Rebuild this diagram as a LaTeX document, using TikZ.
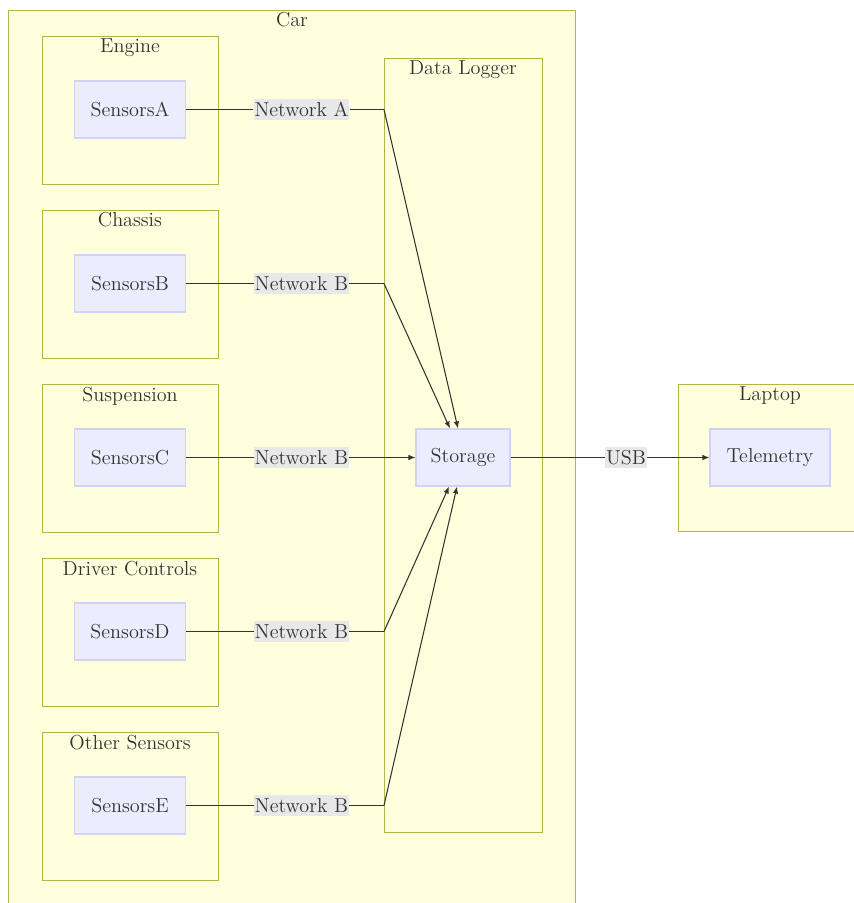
\documentclass[tikz,border=0pt]{standalone}
\usepackage{xcolor}
\usepackage{tikz}
\usetikzlibrary{arrows.meta, positioning}
\definecolor{grpfill}{HTML}{FFFFDE}
\definecolor{grpline}{HTML}{B5B545}
\definecolor{nodefill}{HTML}{ECECFF}
\definecolor{nodeline}{HTML}{D2D2F7}
\definecolor{ink}{HTML}{333333}
\definecolor{lblfill}{HTML}{E8E8E8}

\begin{document}
\begin{tikzpicture}[
  x=0.02cm, y=-0.02cm,
  font=\fontsize{11.5}{13}\selectfont,
  grp/.style={draw=grpline,fill=grpfill,line width=0.6pt,
              anchor=north west,inner sep=0pt},
  ttl/.style={text=ink,inner sep=1pt,anchor=north},
  snode/.style={draw=nodeline,fill=nodefill,line width=0.6pt,
                text=ink,minimum width=2.22cm,minimum height=1.14cm},
  lbl/.style={fill=lblfill,text=ink,inner xsep=0.5pt,inner ysep=2pt},
  arr/.style={-{Latex[length=1.4mm,width=1.1mm]},draw=ink,line width=0.6pt},
  ln/.style={draw=ink,line width=0.6pt}
]
  \useasboundingbox (0,0) rectangle (854,903);
  % outer groups
  \node[grp,minimum width=11.34cm,minimum height=17.9cm] (car) at (8,10) {};
  \node[ttl] (carT) at (292,10) {Car};
  \node[grp,minimum width=3.56cm,minimum height=2.94cm] (laptop) at (678,384) {};
  \node[ttl] (laptopT) at (770,385) {Laptop};
  % sensor groups
  \node[grp,minimum width=3.52cm,minimum height=2.96cm] (engine) at (42,36) {};
  \node[ttl] (engineT) at (130,37) {Engine};
  \node[grp,minimum width=3.52cm,minimum height=2.96cm] (chassis) at (42,210) {};
  \node[ttl] (chassisT) at (130,210) {Chassis};
  \node[grp,minimum width=3.52cm,minimum height=2.96cm] (susp) at (42,384) {};
  \node[ttl] (suspT) at (130,385) {Suspension};
  \node[grp,minimum width=3.52cm,minimum height=2.96cm] (driver) at (42,558) {};
  \node[ttl] (driverT) at (130,559) {Driver Controls};
  \node[grp,minimum width=3.52cm,minimum height=2.96cm] (other) at (42,732) {};
  \node[ttl] (otherT) at (130,733) {Other Sensors};
  \node[grp,minimum width=3.16cm,minimum height=15.48cm] (logger) at (384,58) {};
  \node[ttl] (loggerT) at (463,59) {Data Logger};
  % nodes
  \node[snode] (sA) at (130,109.5) {SensorsA};
  \node[snode] (sB) at (130,283.5) {SensorsB};
  \node[snode] (sC) at (130,457.5) {SensorsC};
  \node[snode] (sD) at (130,631.5) {SensorsD};
  \node[snode] (sE) at (130,805.5) {SensorsE};
  \node[snode,minimum width=1.88cm] (storage) at (463,457.5) {Storage};
  \node[snode,minimum width=2.4cm] (telemetry) at (770,457.5) {Telemetry};
  % bends on the logger edge
  \coordinate (bA) at (384,109.5);
  \coordinate (bB) at (384,283.5);
  \coordinate (bD) at (384,631.5);
  \coordinate (bE) at (384,805.5);
  % links
  \node[lbl] (nA) at (301.5,109.5) {Network A};
  \node[lbl] (nB) at (301.5,283.5) {Network B};
  \node[lbl] (nC) at (301.5,457.5) {Network B};
  \node[lbl] (nD) at (301.5,631.5) {Network B};
  \node[lbl] (nE) at (301.5,805.5) {Network B};
  \node[lbl] (usb) at (626,457.5) {USB};
  \foreach \s/\n in {sA/nA,sB/nB,sC/nC,sD/nD,sE/nE}
    \draw[ln] (\s.east)--(\n.west);
  \draw[ln] (nA.east)--(bA);
  \draw[ln] (nB.east)--(bB);
  \draw[ln] (nD.east)--(bD);
  \draw[ln] (nE.east)--(bE);
  \draw[arr] (bA)--([xshift=-0.1cm]storage.north);
  \draw[arr] (bB)--([xshift=-0.26cm]storage.north);
  \draw[arr] (nC.east)--(storage.west);
  \draw[arr] (bD)--([xshift=-0.28cm]storage.south);
  \draw[arr] (bE)--([xshift=-0.12cm]storage.south);
  \draw[ln] (storage.east)--(usb.west);
  \draw[arr] (usb.east)--(telemetry.west);
\end{tikzpicture}
\end{document}
